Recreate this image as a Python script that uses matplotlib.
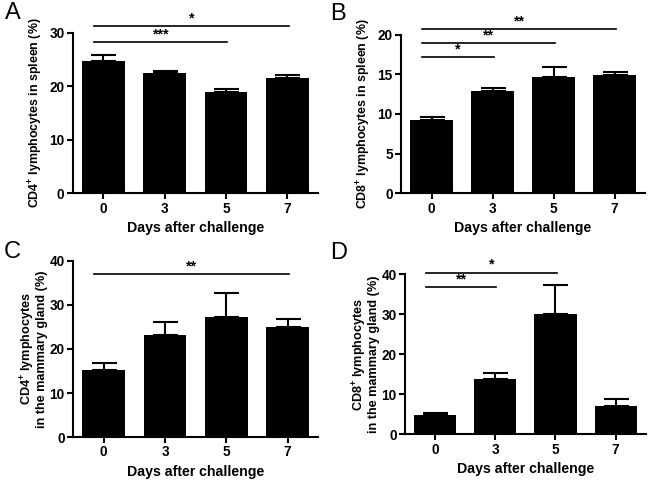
"""Lymphocyte percentages after challenge, four bar panels."""

import matplotlib

matplotlib.use("Agg")
import matplotlib.pyplot as plt
import numpy as np
from matplotlib import font_manager

# narrow Arial-like face if installed, else regular
names = {f.name for f in font_manager.fontManager.ttflist}
face = "Liberation Sans Narrow" if "Liberation Sans Narrow" in names else "Liberation Sans"
narrow = face != "Liberation Sans"

plt.rcParams["font.family"] = [face, "DejaVu Sans"]
plt.rcParams["mathtext.fontset"] = "custom"
plt.rcParams["mathtext.rm"] = face + ":bold"
plt.rcParams["mathtext.default"] = "rm"

days = ["0", "3", "5", "7"]

# panel A: CD4+ in spleen
cd4_spleen = [24.7, 22.4, 18.9, 21.55]
cd4_spleen_err = [1.1, 0.45, 0.55, 0.6]
# panel B: CD8+ in spleen
cd8_spleen = [9.24, 12.9, 14.7, 14.9]
cd8_spleen_err = [0.35, 0.35, 1.2, 0.4]
# panel C: CD4+ in mammary gland
cd4_gland = [15.2, 23.25, 27.2, 25.0]
cd4_gland_err = [1.7, 2.85, 5.6, 1.7]
# panel D: CD8+ in mammary gland
cd8_gland = [4.75, 13.7, 30.0, 7.1]
cd8_gland_err = [0.65, 1.6, 7.4, 1.7]

# significance brackets: (from, to, label, height)
sig_a = [(0, 3, "*", 31.3), (0, 2, "***", 28.3)]
sig_b = [(0, 3, "**", 20.7), (0, 2, "**", 18.95), (0, 1, "*", 17.2)]
sig_c = [(0, 3, "**", 37.0)]
sig_d = [(0, 2, "*", 40.4), (0, 1, "**", 36.75)]

fig = plt.figure(figsize=(6.49, 4.83), dpi=100)

scale = 1.0 if narrow else 0.85
fs = 12 * scale

panels = [
    ("A", [0.112, 0.600, 0.378, 0.332], cd4_spleen, cd4_spleen_err, sig_a,
     "CD4$^{+}$ lymphocytes in spleen (%)", 30, [0, 10, 20, 30], (0.008, 0.974)),
    ("B", [0.618, 0.600, 0.376, 0.328], cd8_spleen, cd8_spleen_err, sig_b,
     "CD8$^{+}$ lymphocytes in spleen (%)", 20, [0, 5, 10, 15, 20], (0.508, 0.972)),
    ("C", [0.1125, 0.095, 0.378, 0.365], cd4_gland, cd4_gland_err, sig_c,
     "CD4$^{+}$ lymphocytes\nin the mammary gland (%)", 40, [0, 10, 20, 30, 40], (0.006, 0.478)),
    ("D", [0.624, 0.101, 0.371, 0.331], cd8_gland, cd8_gland_err, sig_d,
     "CD8$^{+}$ lymphocytes\nin the mammary gland (%)", 40, [0, 10, 20, 30, 40], (0.508, 0.476)),
]

for letter, rect, vals, errs, sigs, ylabel, ymax, yticks, lpos in panels:
    ax = fig.add_axes(rect)
    x = np.arange(len(days))
    ax.bar(x, vals, width=0.7, color="black", zorder=2)
    ax.errorbar(x, vals, yerr=[np.zeros(len(errs)), errs], fmt="none",
                ecolor="black", elinewidth=1.5, capsize=9, capthick=1.5, zorder=1)

    for i, j, label, h in sigs:
        ax.plot([i - 0.15, j + 0.02], [h, h], color="black", lw=1.2, clip_on=False)
        ax.text((i - 0.15 + j + 0.02) / 2, h + ymax * 0.005, label, ha="center",
                va="bottom", fontsize=fs, fontweight="bold")

    ax.set_xlim(-0.5, 3.5)
    ax.set_ylim(0, ymax)
    ax.set_xticks(x)
    ax.set_xticklabels(days)
    ax.set_yticks(yticks)
    for s in ["top", "right"]:
        ax.spines[s].set_visible(False)
    for s in ["left", "bottom"]:
        ax.spines[s].set_linewidth(1.5)
    ax.tick_params(width=1.5, length=4, labelsize=11.5 * scale, pad=2)
    for lab in ax.get_xticklabels() + ax.get_yticklabels():
        lab.set_fontweight("bold")
    ax.set_xlabel("Days after challenge", fontsize=fs, fontweight="bold", labelpad=4)
    two_line = "\n" in ylabel
    ax.set_ylabel(ylabel, fontsize=(10.7 if two_line else 10.5) * scale,
                  fontweight="bold", labelpad=1 if two_line else 3, linespacing=0.95)

    fig.text(lpos[0], lpos[1], letter, fontsize=17, ha="left", va="center")

fig.savefig("out.png", dpi=100)
